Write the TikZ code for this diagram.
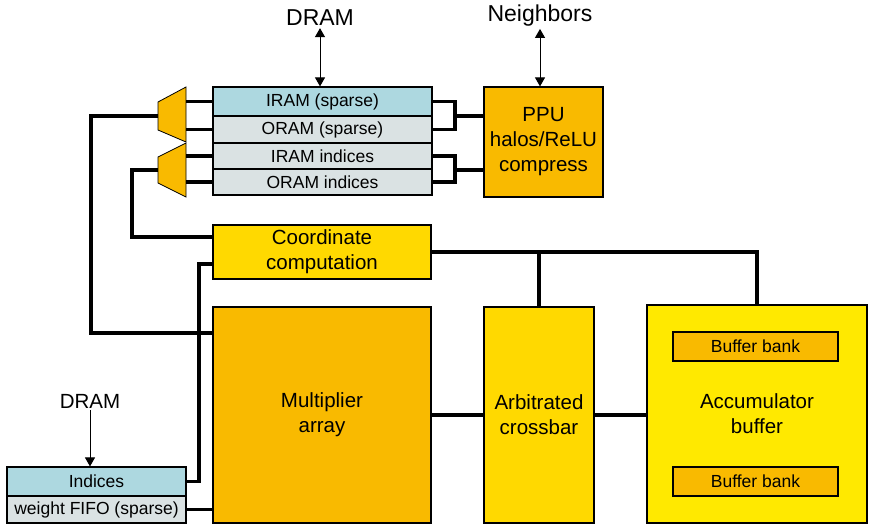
\documentclass[tikz,border=0pt]{standalone}
\usepackage{fontspec}
\setmainfont{Liberation Sans}
\usetikzlibrary{arrows.meta}
\definecolor{ramblue}{RGB}{173,216,224}
\definecolor{ramgray}{RGB}{218,226,227}
\definecolor{unitorange}{RGB}{249,186,0}
\definecolor{unitgold}{RGB}{255,217,0}
\definecolor{unityellow}{RGB}{255,233,0}

\begin{document}
\begin{tikzpicture}[x=1pt, y=-1pt,
  box/.style={draw, line width=1.2pt, inner sep=0pt, align=center, font=\fontsize{20.5}{25}\selectfont},
  row/.style={box, font=\fontsize{17.5}{20}\selectfont},
  bus/.style={line width=3.5pt},
  io/.style={line width=1pt, {Triangle[width=10pt,length=9pt]}-{Triangle[width=10pt,length=9pt]}},
  lbl/.style={inner sep=2pt, font=\fontsize{23}{26}\selectfont}]
\useasboundingbox (0,0) rectangle (875,528);

% RAM stack
\node[row, fill=ramblue, minimum width=219pt, minimum height=29pt] (iram) at (322.5,101.5) {IRAM (sparse)};
\node[row, fill=ramgray, minimum width=219pt, minimum height=27pt] (oram) at (322.5,129.5) {ORAM (sparse)};
\node[row, fill=ramgray, minimum width=219pt, minimum height=26pt] (irami) at (322.5,156) {IRAM indices};
\node[row, fill=ramgray, minimum width=219pt, minimum height=26pt] (orami) at (322.5,182) {ORAM indices};

\node[box, fill=unitorange, minimum width=119pt, minimum height=110pt] (ppu) at (543.5,142) {PPU\\halos/ReLU\\compress};
\node[box, fill=unitgold, minimum width=218pt, minimum height=54pt] (coord) at (322,252) {Coordinate\\computation};
\node[box, fill=unitorange, minimum width=218pt, minimum height=216pt] (mul) at (322,415) {Multiplier\\array};
\node[box, fill=unitgold, minimum width=110pt, minimum height=216pt] (xbar) at (539,415) {Arbitrated\\crossbar};
\node[box, fill=unityellow, minimum width=220pt, minimum height=218pt] (acc) at (757,414) {Accumulator\\buffer};
\node[row, fill=unitorange, minimum width=165pt, minimum height=29pt] (bank1) at (755.5,346.5) {Buffer bank};
\node[row, fill=unitorange, minimum width=165pt, minimum height=29pt] (bank2) at (755.5,481.5) {Buffer bank};

\node[row, fill=ramblue, minimum width=179pt, minimum height=29pt] (idx) at (96.5,481.5) {Indices};
\node[row, fill=ramgray, minimum width=179pt, minimum height=27pt] (wfifo) at (96.5,509.5) {weight FIFO (sparse)};

\node[lbl] (dram) at (320,18) {DRAM};
\node[lbl] (nbr) at (540,16) {Neighbors};
\node[lbl, font=\fontsize{20.5}{24}\selectfont] (dram2) at (90,401) {DRAM};

% muxes
\draw[fill=unitorange, line width=0.8pt] (158,102) -- (186,87) -- (186,142) -- (158,130) -- cycle;
\draw[fill=unitorange, line width=0.8pt] (158,157) -- (186,143) -- (186,197) -- (158,183) -- cycle;
\coordinate (m1) at (158,116);
\coordinate (m1r) at (186,116);
\coordinate (m2) at (158,170);
\coordinate (m2r) at (186,170);

\draw[io] (dram) -- (dram |- iram.north);
\draw[io] (nbr) -- (nbr |- ppu.north);
\draw[line width=1pt, -{Triangle[width=10pt,length=9pt]}] (dram2) -- (dram2 |- idx.north);

% mux to RAM
\draw[bus] (iram.west) -- (iram.west -| m1r);
\draw[bus] (oram.west) -- (oram.west -| m1r);
\draw[bus] (irami.west) -- (irami.west -| m2r);
\draw[bus] (orami.west) -- (orami.west -| m2r);

% RAM to PPU
\coordinate (j1) at (455,116);
\coordinate (j2) at (455,170);
\draw[bus] (iram.east) -| (j1) |- (oram.east);
\draw[bus] (j1) -- (j1 -| ppu.west);
\draw[bus] (irami.east) -| (j2) |- (orami.east);
\draw[bus] (j2) -- (j2 -| ppu.west);

% left side
\coordinate (a1) at (91,333);
\coordinate (a2) at (132,237);
\coordinate (a3) at (199,264);
\draw[bus] (m1) -| (a1) -- (a1 -| mul.west);
\draw[bus] (m2) -| (a2) -- (a2 -| coord.west);
\draw[bus] (idx.east) -| (a3) -- (a3 -| coord.west);
\draw[bus] (wfifo.east) -- (wfifo.east -| mul.west);

% datapath
\draw[bus] (coord.east) -| (acc.north);
\draw[bus] (xbar.north) -- (xbar.north |- coord.east);
\draw[bus] (mul.east) -- (xbar.west);
\draw[bus] (xbar.east) -- (xbar.east -| acc.west);
\end{tikzpicture}
\end{document}
